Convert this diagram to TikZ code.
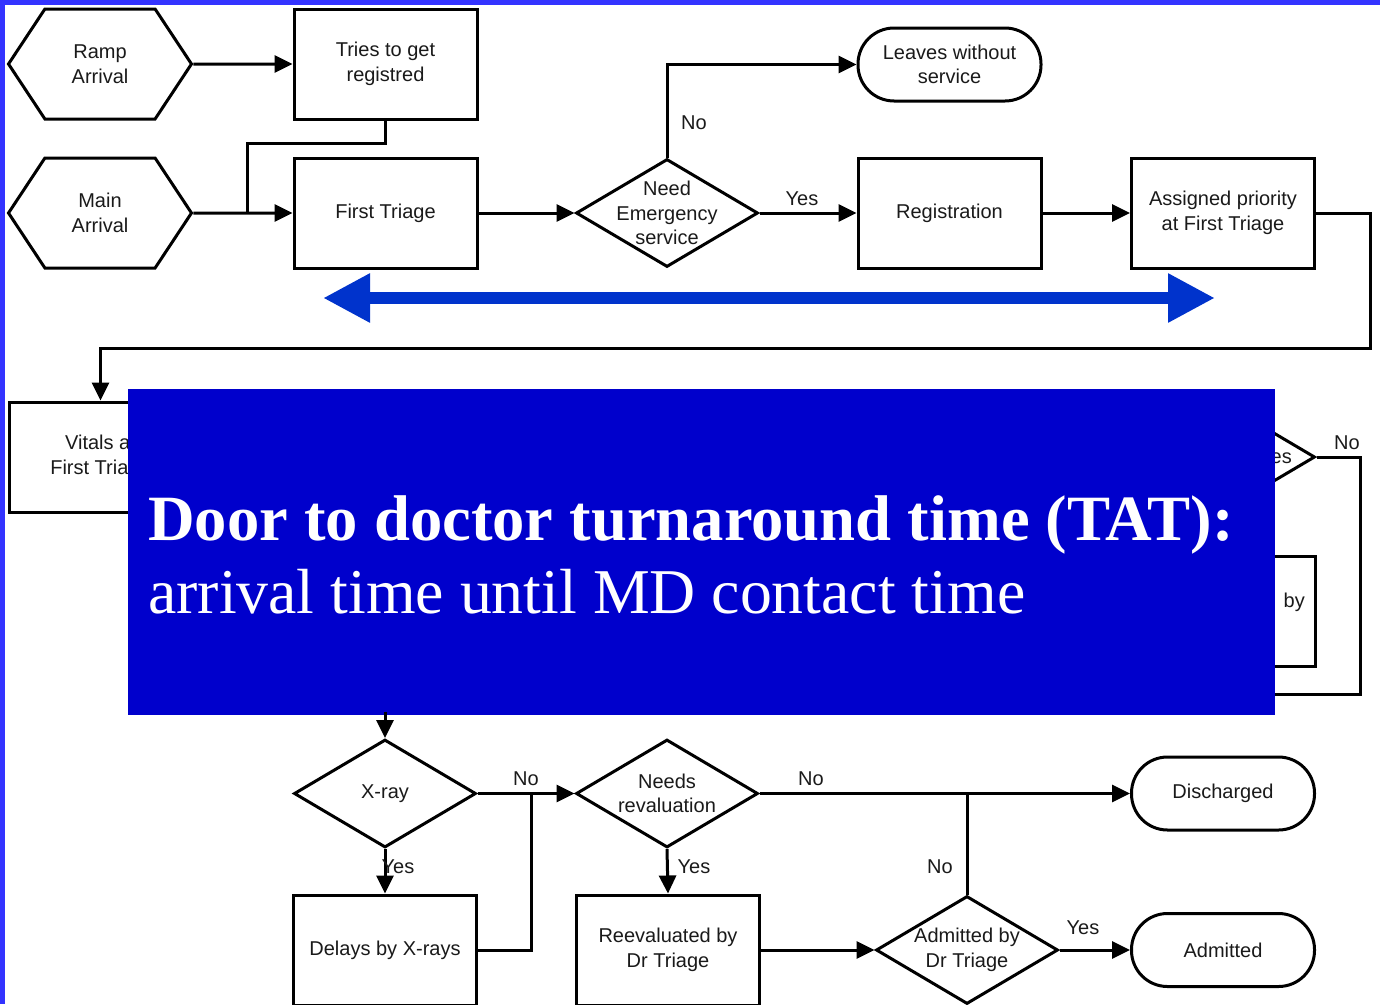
\documentclass[tikz,border=0pt]{standalone}
\usepackage{fontspec}
\setmainfont{Liberation Sans}
\newfontfamily\bannerfont{Liberation Serif}
\usetikzlibrary{arrows.meta,shapes.geometric,shapes.symbols}

\definecolor{framecol}{HTML}{3333FF}
\definecolor{bannercol}{HTML}{0000CC}
\definecolor{spancol}{HTML}{0033CC}
\definecolor{inkcol}{HTML}{1A1A1A}

\begin{document}
\begin{tikzpicture}[x=1pt,y=-1pt,
  every node/.style={font=\fontsize{20}{24.5}\selectfont, text=inkcol, align=center},
  proc/.style={draw, line width=3pt, rectangle, minimum width=183pt, minimum height=110pt, inner sep=0pt},
  dia/.style={draw, line width=3pt, diamond, minimum width=182pt, minimum height=108pt, inner sep=0pt},
  term/.style={draw, line width=3pt, rectangle, rounded corners=36pt, minimum width=183pt, minimum height=73pt, inner sep=0pt},
  hexa/.style={draw, line width=3pt, signal, signal to=west and east, signal pointer angle=113,
               minimum width=183pt, minimum height=110pt, inner sep=0pt},
  flow/.style={line width=3pt, -{Triangle[length=18pt,width=17pt]}},
  link/.style={line width=3pt},
  lbl/.style={anchor=base, inner sep=0pt}
]
\useasboundingbox (0,0) rectangle (1380,1004);
\fill[white] (0,0) rectangle (1380,1004);

% frame strips
\fill[framecol] (0,0) rectangle (5,1004);
\fill[framecol] (0,0) rectangle (1380,5);

% ---- upper row ----
\node[hexa] (ramp) at (100,64) {Ramp\\Arrival};
\node[hexa] (main) at (100,213) {Main\\Arrival};
\node[proc] (tries) at (385.5,64) {Tries to get\\registred};
\node[proc] (ft) at (385.5,213) {First Triage};
\node[dia, label={center:{Need\\Emergency\\service}}] (need) at (667,213) {};
\node[term] (leave) at (949.5,64.5) {Leaves without\\service};
\node[proc] (reg) at (949.5,213) {Registration};
\node[proc] (prio) at (1223,213) {Assigned priority\\at First Triage};

\coordinate (join1) at (247,213);
\draw[flow] (ramp) -- (tries);
\draw[flow] (main) -- (ft);
\draw[link] (tries.south) -- ++(0,23) -| (join1);
\draw[flow] (ft) -- (need);
\draw[flow] (need.north) |- (leave.west);
\draw[flow] (need) -- (reg);
\draw[flow] (reg) -- (prio);

\node[lbl] (lno1) at (694,129) {No};
\node[lbl] (lyes1) at (802,205) {Yes};

% span arrow
\coordinate (spanL) at (323,298);
\coordinate (spanR) at (1215,298);
\draw[spancol, line width=12pt, {Triangle[length=47pt,width=46pt]}-{Triangle[length=47pt,width=46pt]}] (spanL) -- (spanR);

% ---- middle row ----
\node[proc] (vitals) at (100.5,457) {Vitals at\\First Triage};
\draw[flow] (prio.east) -- ++(54,0) -- ++(0,135) -| (vitals.north);

\node[dia] (wait) at (1224,457) {};
\node[lbl, anchor=base east] (wtxt) at (1292,463) {es};
\node[proc] (seen) at (1224,611) {};
\node[lbl, anchor=base east] (stxt) at (1305,607) {by};
\coordinate (loopend) at (1250,694);
\draw[link] (wait.east) -- ++(44,0) |- (loopend);
\node[lbl] (lno2) at (1347,449) {No};

% ---- banner ----
\node[fill=bannercol, draw=none, minimum width=1147pt, minimum height=326pt, inner sep=0pt, anchor=north west] (banner) at (128,389) {};
\node[anchor=base west, inner sep=0pt, text=white, font=\bannerfont\bfseries\fontsize{64.6}{64}\selectfont] (title) at (148,540) {Door to doctor turnaround time (TAT):};
\node[anchor=base west, inner sep=0pt, text=white, font=\bannerfont\fontsize{63.8}{64}\selectfont] (subtitle) at (148,613) {arrival time until MD contact time};

% ---- lower rows ----
\node[dia, label={center:X-ray}] (xray) at (385,793.5) {};
\node[proc] (delay) at (385,950) {Delays by X-rays};
\node[dia, label={center:{Needs\\revaluation}}] (reval) at (667,793.5) {};
\node[proc] (reev) at (668,950) {Reevaluated by\\Dr Triage};
\node[dia, label={center:{Admitted by\\Dr Triage}}] (adm) at (967,950) {};
\node[term] (dis) at (1223,793.5) {Discharged};
\node[term] (admitted) at (1223,950) {Admitted};

\coordinate (fromtop) at (385,712);
\coordinate (join2) at (531,793.5);
\coordinate (join3) at (967,793.5);
\draw[flow] (fromtop) -- (xray.north);
\draw[flow] (xray.south) -- (delay.north);
\draw[flow] (xray.east) -- (reval.west);
\draw[link] (delay.east) -| (join2);
\draw[flow] (reval.east) -- (dis.west);
\draw[flow] (reval.south) -- (reev.north);
\draw[flow] (reev.east) -- (adm.west);
\draw[flow] (adm.east) -- (admitted.west);
\draw[link] (adm.north) -- (join3);

\node[lbl] (lno3) at (526,785) {No};
\node[lbl] (lno4) at (811,785) {No};
\node[lbl] (lyes2) at (398,873) {Yes};
\node[lbl] (lyes3) at (694,873) {Yes};
\node[lbl] (lno5) at (940,873) {No};
\node[lbl] (lyes4) at (1083,934) {Yes};
\end{tikzpicture}
\end{document}
